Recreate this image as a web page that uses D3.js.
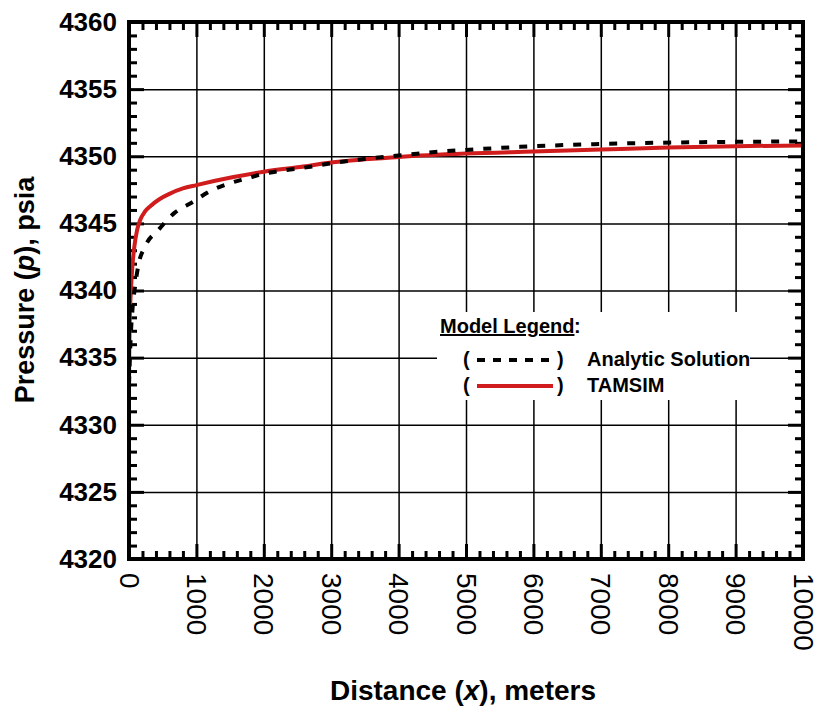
<!DOCTYPE html>
<html>
<head>
<meta charset="utf-8">
<script src="https://cdn.jsdelivr.net/npm/d3@7"></script>
<style>
  body { margin: 0; background: #fff; }
  svg { display: block; font-family: "Liberation Sans", Arial, sans-serif; }
</style>
</head>
<body>
<svg id="chart" width="818" height="706"></svg>
<script>
(function() {

// tick values
var xTicks = [0, 1000, 2000, 3000, 4000, 5000, 6000, 7000, 8000, 9000, 10000]
var yTicks = [4320, 4325, 4330, 4335, 4340, 4345, 4350, 4355, 4360]

// analytic solution (x in m, p in psia)
var analyticX = [0, 10, 25, 50, 90, 140, 240, 435, 680, 950, 1200, 1500, 1750, 2000, 2300, 2600, 2850, 3100, 3500, 4000, 4500, 5000, 5800, 6900, 8500, 10000]
var analyticP = [4333, 4334.5, 4336.5, 4338.5, 4340.3, 4341.9, 4343.3, 4344.5, 4345.8, 4346.6, 4347.4, 4348, 4348.35, 4348.7, 4348.95, 4349.15, 4349.35, 4349.55, 4349.8, 4350.05, 4350.3, 4350.47, 4350.7, 4350.9, 4351.05, 4351.1]

// TAMSIM
var tamsimX = [0, 3, 8, 15, 30, 50, 80, 120, 170, 240, 320, 450, 600, 800, 1000, 1550, 2000, 2540, 3030, 4000, 5000, 6000, 7000, 8000, 9000, 10000]
var tamsimP = [4333, 4335, 4337, 4338.5, 4340.2, 4341.8, 4343.3, 4344.5, 4345.3, 4345.9, 4346.3, 4346.8, 4347.2, 4347.6, 4347.85, 4348.45, 4348.85, 4349.2, 4349.55, 4349.95, 4350.2, 4350.35, 4350.5, 4350.65, 4350.75, 4350.8]

var left = 129, right = 803, top = 22, bottom = 559
var red = '#d01c1c'

var svg = d3.select('#chart')

var x = d3.scaleLinear().domain([0, 10000]).range([left, right])
var y = d3.scaleLinear().domain([4320, 4360]).range([bottom, top])

var xMinor = d3.range(0, 10001, 200).filter(function(d){ return d % 1000 != 0 })
var yMinor = d3.range(4320, 4361, 1).filter(function(d){ return d % 5 != 0 })

function zip(xs, ps) { return xs.map(function(d, i){ return [d, ps[i]] }) }

// grid
svg.append('g').attr('transform', 'translate(0,' + bottom + ')')
    .call(d3.axisBottom(x).tickValues(xTicks).tickSize(-(bottom - top)).tickFormat(''))
    .call(function(g){ g.select('.domain').remove() })
    .selectAll('line').attr('stroke', '#000').attr('stroke-width', 1.5)
svg.append('g').attr('transform', 'translate(' + left + ',0)')
    .call(d3.axisLeft(y).tickValues(yTicks).tickSize(-(right - left)).tickFormat(''))
    .call(function(g){ g.select('.domain').remove() })
    .selectAll('line').attr('stroke', '#000').attr('stroke-width', 1.5)

// legend box hides grid underneath
svg.append('rect').attr('x', 437).attr('y', 312).attr('width', 313).attr('height', 88).attr('fill', '#fff')

// inward ticks on all four sides
function ticks(axis, tr, vals, len, w) {
    svg.append('g').attr('transform', tr)
        .call(axis.tickValues(vals).tickSize(-len).tickFormat(''))
        .call(function(g){ g.select('.domain').remove() })
        .selectAll('line').attr('stroke', '#000').attr('stroke-width', w)
}
ticks(d3.axisBottom(x), 'translate(0,' + bottom + ')', xTicks, 15, 3)
ticks(d3.axisBottom(x), 'translate(0,' + bottom + ')', xMinor, 8, 3)
ticks(d3.axisTop(x), 'translate(0,' + top + ')', xTicks, 15, 3)
ticks(d3.axisTop(x), 'translate(0,' + top + ')', xMinor, 8, 3)
ticks(d3.axisLeft(y), 'translate(' + left + ',0)', yTicks, 15, 3)
ticks(d3.axisLeft(y), 'translate(' + left + ',0)', yMinor, 8, 3)
ticks(d3.axisRight(y), 'translate(' + right + ',0)', yTicks, 15, 3)
ticks(d3.axisRight(y), 'translate(' + right + ',0)', yMinor, 8, 3)

// curves
svg.append('clipPath').attr('id', 'clip').append('rect')
    .attr('x', left).attr('y', top).attr('width', right - left).attr('height', bottom - top)

var line = d3.line()
    .x(function(d){ return x(d[0]) })
    .y(function(d){ return y(d[1]) })
    .curve(d3.curveMonotoneX)

svg.append('path').datum(zip(tamsimX, tamsimP))
    .attr('clip-path', 'url(#clip)')
    .attr('d', line).attr('fill', 'none')
    .attr('stroke', red).attr('stroke-width', 4)

svg.append('path').datum(zip(analyticX, analyticP))
    .attr('clip-path', 'url(#clip)')
    .attr('d', line).attr('fill', 'none')
    .attr('stroke', '#000').attr('stroke-width', 4)
    .attr('stroke-dasharray', '8,10')

// frame
svg.append('rect').attr('x', left).attr('y', top).attr('width', right - left).attr('height', bottom - top)
    .attr('fill', 'none').attr('stroke', '#000').attr('stroke-width', 4)

// tick labels
var yl = svg.append('g').attr('transform', 'translate(' + left + ',0)')
    .call(d3.axisLeft(y).tickValues(yTicks).tickSize(0).tickPadding(12).tickFormat(d3.format('d')))
yl.select('.domain').remove()
yl.selectAll('text').attr('font-size', 26).attr('font-weight', 'bold').attr('fill', '#000')
    .attr('font-family', '"Liberation Sans", Arial, sans-serif')

var xl = svg.append('g').attr('transform', 'translate(0,' + bottom + ')')
    .call(d3.axisBottom(x).tickValues(xTicks).tickSize(0).tickFormat(d3.format('d')))
xl.select('.domain').remove()
xl.selectAll('text')
    .attr('font-size', 28).attr('fill', '#000')
    .attr('font-family', '"Liberation Sans", Arial, sans-serif')
    .attr('text-anchor', 'start')
    .attr('transform', 'translate(0,14) rotate(90)')
    .attr('x', 0).attr('y', 0).attr('dy', '0.35em')

// axis titles
var xt = svg.append('text').attr('x', 463).attr('y', 700).attr('text-anchor', 'middle')
    .attr('font-size', 28).attr('font-weight', 'bold')
xt.append('tspan').text('Distance (')
xt.append('tspan').attr('font-style', 'italic').text('x')
xt.append('tspan').text('), meters')

var yt = svg.append('text').attr('transform', 'translate(34,290) rotate(-90)').attr('text-anchor', 'middle')
    .attr('font-size', 27).attr('font-weight', 'bold')
yt.append('tspan').text('Pressure (')
yt.append('tspan').attr('font-style', 'italic').text('p')
yt.append('tspan').text('), psia')

// legend
var lg = svg.append('g').attr('font-size', 20).attr('font-weight', 'bold')
lg.append('text').attr('x', 440).attr('y', 333).attr('text-decoration', 'underline').text('Model Legend')
lg.append('text').attr('x', 440 + 134).attr('y', 333).text(':')

var rows = [
    {name: 'Analytic Solution', color: '#000', dash: '8,8', yy: 366},
    {name: 'TAMSIM', color: red, dash: null, yy: 392}
]
rows.forEach(function(r) {
    lg.append('text').attr('x', 463).attr('y', r.yy).text('(')
    lg.append('text').attr('x', 557).attr('y', r.yy).text(')')
    lg.append('line').attr('x1', 477).attr('x2', 553).attr('y1', r.yy - 6).attr('y2', r.yy - 6)
        .attr('stroke', r.color).attr('stroke-width', 4).attr('stroke-dasharray', r.dash)
    lg.append('text').attr('x', 587).attr('y', r.yy).text(r.name)
})

})()
</script>
</body>
</html>
